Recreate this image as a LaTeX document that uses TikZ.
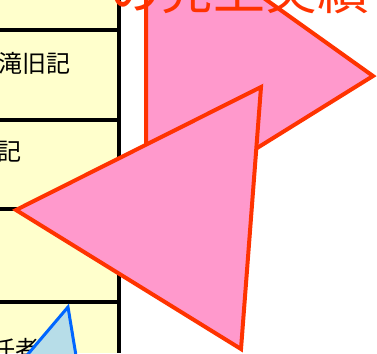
\documentclass[tikz,border=0pt]{standalone}
\usepackage{fontspec}
\newfontfamily\jpfont{Noto Sans CJK JP}
\definecolor{cellyellow}{HTML}{FFFFCC}
\definecolor{arrowpink}{HTML}{FF99CC}
\definecolor{arrowred}{HTML}{FF3300}
\definecolor{markblue}{HTML}{0066FF}
\definecolor{markcyan}{HTML}{B7DDE8}

\begin{document}
\begin{tikzpicture}[x=1pt, y=-1pt,
    celltext/.style={font=\jpfont\fontsize{24}{24}\selectfont, anchor=west, inner sep=0pt},
    pinkshape/.style={fill=arrowpink, draw=arrowred, line width=4pt, line join=miter}]
    \useasboundingbox (0,0) rectangle (377,353);
    \clip (0,0) rectangle (377,353);

    % Draw the table cells
    \fill[cellyellow] (0,0) rectangle (119,353);
    \foreach \y in {30, 120, 209, 302} {
        \draw[line width=3.5pt] (0,\y) -- (119,\y);
    }
    \draw[line width=4.5pt] (119,0) -- (119,353);

    % Texts in the cells
    \node[celltext] (rowb) at (-2,63) {滝旧記};
    \node[celltext] (rowc) at (-3,152) {記};
    \node[celltext] (rowd) at (-9,349) {任者};

    % Big pink triangle behind
    \filldraw[pinkshape] (146,-86) -- (146,217) -- (373,76) -- cycle;

    % Red title over it
    \node[font=\jpfont\fontsize{52}{52}\selectfont, text=arrowred, anchor=base west, inner sep=0pt]
        (title) at (109,10) {の売上実績};

    % Pink triangle in front
    \filldraw[pinkshape] (16,210) -- (261,87) -- (241,349) -- cycle;

    % Blue triangle at the bottom
    \filldraw[fill=markcyan, draw=markblue, line width=3pt, line join=miter]
        (68,307) -- (80,380) -- (6,380) -- cycle;
\end{tikzpicture}
\end{document}
